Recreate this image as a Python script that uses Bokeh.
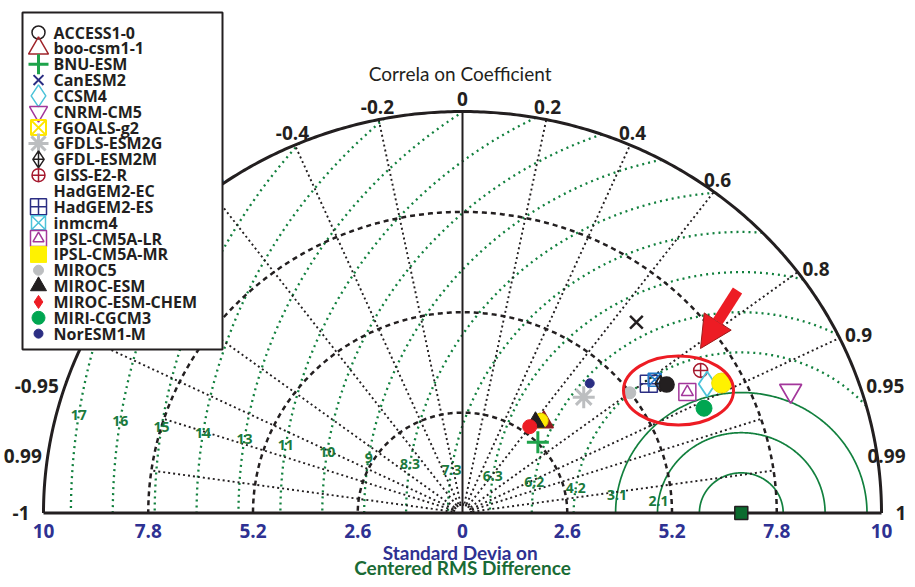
import numpy as np
from bokeh.plotting import figure
from bokeh.models import Range1d, Arrow, NormalHead
from bokeh.core.properties import value
from bokeh.embed import file_html
from bokeh.resources import INLINE

# ---------------- data ----------------
models = ["ACCESS1-0", "boo-csm1-1", "BNU-ESM", "CanESM2", "CCSM4", "CNRM-CM5",
          "FGOALS-g2", "GFDLS-ESM2G", "GFDL-ESM2M", "GISS-E2-R", "HadGEM2-EC",
          "HadGEM2-ES", "inmcm4", "IPSL-CM5A-LR", "IPSL-CM5A-MR", "MIROC5",
          "MIROC-ESM", "MIROC-ESM-CHEM", "MIRI-CGCM3", "NorESM1-M"]
std_dev = [6.06, 3.10, 2.62, 6.56, 6.93, 8.74, 3.08, 4.25, 5.95, 6.97, None,
           5.71, 5.89, 6.40, 7.26, 5.19, 2.97, 2.79, 6.58, 4.61]
corr_coef = [0.836, 0.651, 0.714, 0.658, 0.876, 0.932, 0.630, 0.708, 0.826, 0.848, None,
             0.810, 0.810, 0.872, 0.886, 0.800, 0.610, 0.598, 0.911, 0.685]
ref_std = 6.92

std_ticks = [2.6, 5.2, 7.8, 10.4]
std_tick_labels = ["2.6", "5.2", "7.8", "10"]
std_max = 10.4

corr_lines = [-0.99, -0.95, -0.9, -0.8, -0.6, -0.4, -0.2, 0.2, 0.4, 0.6, 0.8, 0.9, 0.95, 0.99]
corr_ticks = [-1, -0.99, -0.95, -0.9, -0.8, -0.6, -0.4, -0.2, 0, 0.2, 0.4, 0.6, 0.8, 0.9, 0.95, 0.99, 1]
corr_tick_labels = ["-1", "0.99", "-0.95", "-0.9", "-0.8", "-0.6", "-0.4", "-0.2", "0",
                    "0.2", "0.4", "0.6", "0.8", "0.9", "0.95", "0.99", "1"]

rms_radii = [1.04, 2.08, 3.12, 4.16, 5.2, 6.24, 7.28, 8.32, 9.36, 10.4, 11.44,
             12.48, 13.52, 14.56, 15.6, 16.64]
rms_labels = ["", "2.1", "3.1", "4.2", "6.2", "6.3", "7.3", "8.3", "9", "10", "11",
              "13", "14", "15", "16", "17"]

# ---------------- styling ----------------
W, H = 907, 579
KX = 419 / 10.4     # px per unit horizontally
KY = 401.5 / 10.4   # px per unit vertically
OX, OY = 462.0, 512.5   # pixel position of origin

def sx2d(sx):
    return (sx - OX) / KX

def sy2d(sy):
    return (OY - sy) / KY

LATO = value("Lato")
OPEN = value("Open Sans")
DARK = "#231F20"
NAVY = "#2E3192"
GREEN = "#12803E"
GREEN_TXT = "#1B7A3D"

p = figure(width=W, height=H, output_backend="svg", toolbar_location=None,
           x_axis_type=None, y_axis_type=None, min_border=0,
           x_range=Range1d(sx2d(0), sx2d(W)), y_range=Range1d(sy2d(H), sy2d(0)))
p.outline_line_color = None
p.grid.visible = False
p.background_fill_color = "white"

t = np.linspace(0, np.pi, 400)

# RMS arcs (centred at reference point, clipped by outer circle)
for i, rho in enumerate(rms_radii):
    cmin = (std_max ** 2 - ref_std ** 2 - rho ** 2) / (2 * ref_std * rho)
    phi0 = 0.0 if cmin >= 1 else np.arccos(cmin)
    phi = np.linspace(phi0, np.pi, 300)
    xs = ref_std + rho * np.cos(phi)
    ys = rho * np.sin(phi)
    if i < 3:
        p.line(xs, ys, line_color=GREEN, line_width=1.7)
    else:
        p.line(xs, ys, line_color=GREEN, line_width=2.3, line_dash="2 4")

# std dev dashed arcs
for r in std_ticks[:-1]:
    p.line(r * np.cos(t), r * np.sin(t), line_color=DARK, line_width=2.5, line_dash="5 4")
# tiny arc at origin
p.line(0.22 * np.cos(t), 0.22 * np.sin(t), line_color=DARK, line_width=2.5, line_dash="2 1")

# correlation radial lines
for c in corr_lines:
    th = np.arccos(c)
    rend = std_max if abs(c) < 0.93 else std_ticks[2]
    p.line([0.25 * np.cos(th), rend * np.cos(th)], [0.25 * np.sin(th), rend * np.sin(th)],
           line_color=DARK, line_width=1.9, line_dash="2 3")

# outer frame
p.line(std_max * np.cos(t), std_max * np.sin(t), line_color=DARK, line_width=3)
p.line([-std_max, std_max], [0, 0], line_color=DARK, line_width=3)
p.line([0, 0], [0, std_max], line_color=DARK, line_width=2)

# RMS labels
alpha = np.deg2rad(8.8)
for rho, lab in zip(rms_radii, rms_labels):
    if lab:
        p.text([ref_std - rho * np.cos(alpha)], [rho * np.sin(alpha)], text=[lab],
               text_font=OPEN, text_font_style="bold", text_font_size="14px",
               text_color=GREEN_TXT, text_align="center", text_baseline="middle")

# correlation labels around the outer circle
for c, lab in zip(corr_ticks, corr_tick_labels):
    th = np.arccos(c)
    ex, ey = np.cos(th), np.sin(th)
    lx = std_max * ex + 6 * ex / KX
    ly = std_max * ey + 6 * ey / KY
    if c >= 0.999:
        al, bl = "left", "middle"
        lx += 8 / KX
    elif c <= -0.999:
        al, bl = "right", "middle"
        lx -= 8 / KX
    elif c > 0.98:
        al, bl = "right", "middle"
        lx = sx2d(W - 2)
    elif c > 0.7:
        al, bl = "left", "middle"
    elif c < -0.7:
        al, bl = "right", "middle"
    else:
        al, bl = "center", "bottom"
    p.text([lx], [ly], text=[lab], text_font=OPEN, text_font_style="bold",
           text_font_size="19px", text_color=DARK, text_align=al, text_baseline=bl)

# std tick labels
sd_pos = [-v for v in std_ticks[::-1]] + [0] + std_ticks
sd_lab = std_tick_labels[::-1] + ["0"] + std_tick_labels
p.text(sd_pos, [sy2d(530)] * len(sd_pos), text=sd_lab, text_font=OPEN,
       text_font_style="bold", text_font_size="19px", text_color=NAVY,
       text_align="center", text_baseline="middle")

# titles
p.text([0], [sy2d(73)], text=["Correla  on Coefficient"], text_font=LATO,
       text_font_size="19px", text_color=DARK, text_align="center", text_baseline="middle")
p.text([0], [sy2d(552)], text=["Standard Devia  on"], text_font=LATO, text_font_style="bold",
       text_font_size="19px", text_color=NAVY, text_align="center", text_baseline="middle")
p.text([0], [sy2d(567)], text=["Centered RMS Difference"], text_font=LATO, text_font_style="bold",
       text_font_size="19px", text_color="#1A6B35", text_align="center", text_baseline="middle")

# reference point
p.scatter([ref_std], [0], marker="square", size=13, fill_color="#0B6B2E",
          line_color=DARK, line_width=1.5)

# ---------------- model markers ----------------
plot_style = {
    "ACCESS1-0": ("circle", DARK, DARK, 15, 1.5),
    "boo-csm1-1": ("triangle", "#8E1B1E", "#8E1B1E", 19, 1.5),
    "BNU-ESM": ("cross", "#1DA34A", None, 22, 3),
    "CanESM2": ("x", DARK, None, 18, 2.5),
    "CCSM4": ("diamond", "#4CC3D9", None, 25, 1.8),
    "CNRM-CM5": ("inverted_triangle", "#A3379B", None, 22, 1.8),
    "FGOALS-g2": ("circle", "#E0C800", "#FFEA00", 15, 1),
    "GFDLS-ESM2G": ("asterisk", "#BCBEC0", None, 22, 3),
    "GFDL-ESM2M": ("diamond_cross", DARK, None, 16, 1.5),
    "GISS-E2-R": ("circle_cross", "#A6192E", None, 14, 1.5),
    "HadGEM2-ES": ("square_cross", "#2B2E83", None, 17, 1.5),
    "inmcm4": ("square_x", "#2179C8", None, 13, 1.5),
    "IPSL-CM5A-LR": ("square", "#A3379B", None, 17, 1.5),
    "IPSL-CM5A-MR": ("circle", "#F2E000", "#FFF200", 20, 1),
    "MIROC5": ("circle", "#BCBEC0", "#BCBEC0", 12, 1),
    "MIROC-ESM": ("triangle", DARK, DARK, 18, 1),
    "MIROC-ESM-CHEM": ("circle", "#ED1C24", "#ED1C24", 14, 1),
    "MIRI-CGCM3": ("circle", "#00A651", "#00A651", 16, 1),
    "NorESM1-M": ("circle", "#2B2E83", "#2B2E83", 9, 1),
}
draw_order = ["GFDLS-ESM2G", "NorESM1-M", "CanESM2", "MIROC5", "HadGEM2-ES", "inmcm4",
              "GFDL-ESM2M", "ACCESS1-0", "GISS-E2-R", "IPSL-CM5A-LR", "CCSM4", "IPSL-CM5A-MR",
              "MIRI-CGCM3", "CNRM-CM5", "BNU-ESM", "boo-csm1-1", "FGOALS-g2", "MIROC-ESM",
              "MIROC-ESM-CHEM"]
for name in draw_order:
    i = models.index(name)
    s, c = std_dev[i], corr_coef[i]
    x = s * c
    y = s * np.sqrt(1 - c * c)
    mk, lc, fc, sz, lw = plot_style[name]
    p.scatter([x], [y], marker=mk, size=sz, line_color=lc,
              fill_color=fc if fc else None, line_width=lw)
    if name == "IPSL-CM5A-LR":
        p.scatter([x], [y], marker="triangle", size=12, line_color=lc, fill_color=None, line_width=1.5)

# highlight ellipse and arrow
p.ellipse(x=[sx2d(678)], y=[sy2d(390)], width=[110 / KX], height=[69 / KY],
          fill_color=None, line_color="#ED1C24", line_width=3)
p.add_layout(Arrow(end=NormalHead(size=32, fill_color="#ED1C24", line_color="#9E1B1B", line_width=1),
                   x_start=sx2d(737), y_start=sy2d(290), x_end=sx2d(700), y_end=sy2d(348),
                   line_width=11, line_color="#ED1C24"))

# ---------------- legend ----------------
legend_style = {
    "ACCESS1-0": ("circle", DARK, None, 13, 1.5),
    "boo-csm1-1": ("triangle", "#A0252B", None, 20, 1.5),
    "BNU-ESM": ("cross", "#1DA34A", None, 20, 3),
    "CanESM2": ("x", "#2B2E83", None, 14, 2),
    "CCSM4": ("diamond", "#4CC3D9", None, 22, 1.5),
    "CNRM-CM5": ("inverted_triangle", "#A3379B", None, 18, 1.5),
    "FGOALS-g2": ("square_x", "#FFE600", None, 15, 2),
    "GFDLS-ESM2G": ("asterisk", "#BCBEC0", None, 20, 3),
    "GFDL-ESM2M": ("diamond_cross", DARK, None, 17, 1.5),
    "GISS-E2-R": ("circle_cross", "#A6192E", None, 13, 1.5),
    "HadGEM2-ES": ("square_cross", "#2B2E83", None, 16, 1.5),
    "inmcm4": ("square_x", "#4CC3D9", None, 14, 1.5),
    "IPSL-CM5A-LR": ("square", "#A3379B", None, 16, 1.5),
    "IPSL-CM5A-MR": ("square", "#FFF200", "#FFF200", 16, 1),
    "MIROC5": ("circle", "#BCBEC0", "#BCBEC0", 10, 1),
    "MIROC-ESM": ("triangle", DARK, DARK, 16, 1),
    "MIROC-ESM-CHEM": ("diamond", "#ED1C24", "#ED1C24", 13, 1),
    "MIRI-CGCM3": ("circle", "#00A651", "#00A651", 13, 1),
    "NorESM1-M": ("circle", "#2B2E83", "#2B2E83", 9, 1),
}
p.quad(left=[sx2d(22)], right=[sx2d(222)], top=[sy2d(12)], bottom=[sy2d(349)],
       fill_color="white", line_color=DARK, line_width=2)
row0, drow = 32.0, 15.85
for i, name in enumerate(models):
    yy = sy2d(row0 + i * drow)
    if name in legend_style:
        mk, lc, fc, sz, lw = legend_style[name]
        p.scatter([sx2d(38)], [yy], marker=mk, size=sz, line_color=lc,
                  fill_color=fc if fc else None, line_width=lw)
        if name == "IPSL-CM5A-LR":
            p.scatter([sx2d(38)], [yy], marker="triangle", size=11, line_color=lc,
                      fill_color=None, line_width=1.5)
    p.text([sx2d(53)], [yy], text=[name], text_font=OPEN, text_font_style="bold",
           text_font_size="16px", text_color=DARK, text_align="left", text_baseline="middle")

open("out.html", "w").write(file_html(p, INLINE))
